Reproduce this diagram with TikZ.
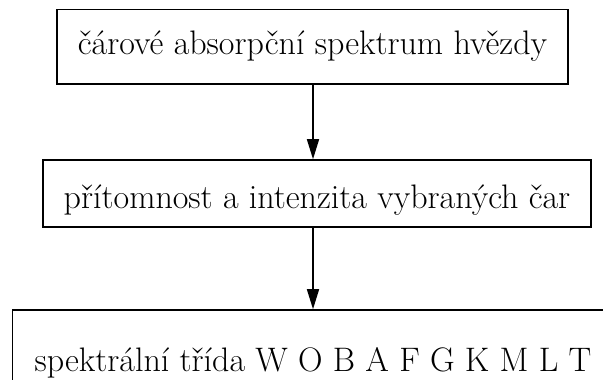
\documentclass[tikz,border=0pt]{standalone}
\usepackage{fontspec}
\setmainfont{Latin Modern Roman}
\usetikzlibrary{arrows.meta}
\begin{document}
\begin{tikzpicture}[x=1pt,y=-1pt,
  box/.style={draw, line width=1.6pt, inner sep=0pt, font=\fontsize{34}{40}\selectfont},
  conn/.style={line width=1.6pt, -{Triangle[length=20pt,width=12pt]}}]
\clip (0,0) rectangle (603,380);
\useasboundingbox (0,0) rectangle (603,380);
\node[box, minimum width=511pt, minimum height=74.5pt, text height=25pt, text depth=9pt] (top) at (312.5,46.75) {čárové absorpční spektrum hvězdy};
\node[box, minimum width=548pt, minimum height=67pt, text height=34pt, text depth=5pt] (mid) at (317,193.5) {přítomnost a intenzita vybraných čar};
\node[box, minimum width=601pt, minimum height=94pt, text height=34pt, text depth=5pt] (bot) at (313,357) {spektrální třída W O B A F G K M L T};
\draw[conn] (top.south -| bot.north) -- (mid.north -| bot.north);
\draw[conn] (mid.south -| bot.north) -- (bot.north);
\end{tikzpicture}
\end{document}
